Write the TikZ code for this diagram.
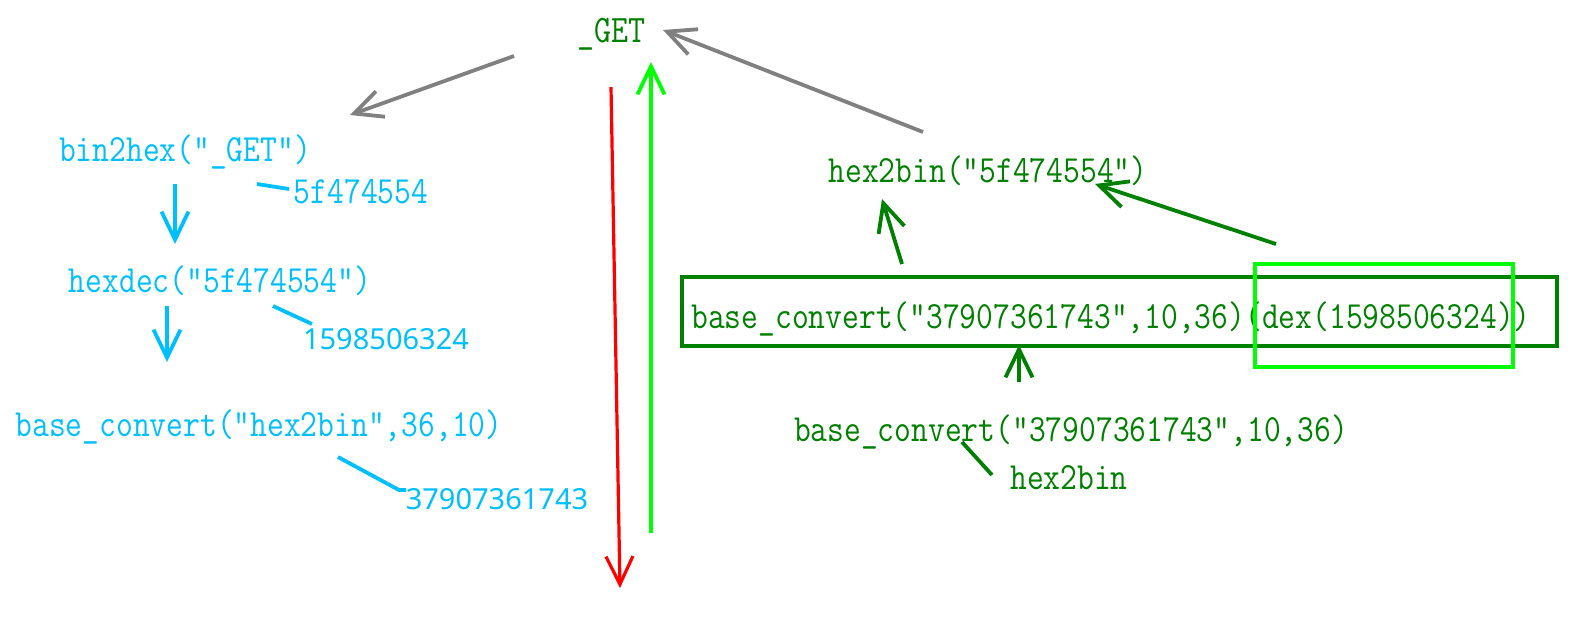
\documentclass[tikz,border=0pt]{standalone}
\usepackage{fontspec}
\usepackage{graphicx}
\setmainfont{Liberation Serif}
\newfontfamily\numf{Noto Sans}
\usetikzlibrary{arrows.meta}
\definecolor{cyanb}{RGB}{0,191,255}
\definecolor{dgreen}{RGB}{0,128,0}
\definecolor{bgreen}{RGB}{0,255,0}
\definecolor{grayc}{RGB}{128,128,128}
\newcommand\mtxt[2]{{\ttfamily\fontsize{#1pt}{#1pt}\selectfont\scalebox{1}[1.18]{#2}}}
\newcommand\ntxt[1]{{\numf\fontsize{29pt}{29pt}\selectfont #1}}
\tikzset{
  lbl/.style={anchor=base,inner sep=0pt,outer sep=0pt},
  arr/.style={line width=3.8pt,-{Straight Barb[length=28pt,width=27pt]}},
  ln/.style={line width=3.8pt},
}
\begin{document}
\begin{tikzpicture}[x=1pt,y=-1pt]
\useasboundingbox (0,0) rectangle (1576,616);
% texts
\node[lbl,text=dgreen] (get) at (611,42) {\mtxt{33}{\_GET}};
\node[lbl,text=cyanb] (b2h) at (185,161) {\mtxt{32.6}{bin2hex("\_GET")}};
\node[lbl,text=cyanb] (hexv) at (361,203) {\mtxt{32.6}{5f474554}};
\node[lbl,text=cyanb] (hd) at (220,292) {\mtxt{32.6}{hexdec("5f474554")}};
\node[lbl,text=cyanb] (decv) at (386,349) {\ntxt{1598506324}};
\node[lbl,text=cyanb] (bc1) at (259,436) {\mtxt{32.6}{base\_convert("hex2bin",36,10)}};
\node[lbl,text=cyanb] (b36v) at (497,509) {\ntxt{37907361743}};
\node[lbl,text=dgreen] (h2b) at (988,182) {\mtxt{32.6}{hex2bin("5f474554")}};
\node[lbl,text=dgreen] (big) at (1111,328) {\mtxt{32.6}{base\_convert("37907361743",10,36)(dex(1598506324))}};
\node[lbl,text=dgreen] (bc2) at (1071,441) {\mtxt{32.6}{base\_convert("37907361743",10,36)}};
\node[lbl,text=dgreen] (h2bw) at (1069,489) {\mtxt{32.6}{hex2bin}};
% coordinates
\coordinate (g1s) at (514,56);  \coordinate (g1e) at (350,115);
\coordinate (g2s) at (923,132); \coordinate (g2e) at (663,30);
\coordinate (rs) at (611,87);   \coordinate (re) at (620,588);
\coordinate (bs) at (651,533);  \coordinate (be) at (651,62);
\coordinate (c1s) at (175,184); \coordinate (c1e) at (175,244);
\coordinate (c2s) at (167,306); \coordinate (c2e) at (167,362);
\coordinate (la1) at (257,184); \coordinate (la2) at (289,189);
\coordinate (lb1) at (273,306); \coordinate (lb2) at (312,324);
\coordinate (lc1) at (338,457); \coordinate (lc2) at (399,490); \coordinate (lc3) at (406,490);
\coordinate (a1s) at (902,264); \coordinate (a1e) at (882,199);
\coordinate (a2s) at (1276,244); \coordinate (a2e) at (1095,184);
\coordinate (a3s) at (1019,382); \coordinate (a3e) at (1019,345);
\coordinate (lg1) at (962,442); \coordinate (lg2) at (992,475);
\coordinate (r1a) at (682,277); \coordinate (r1b) at (1557,346);
\coordinate (r2a) at (1255,264); \coordinate (r2b) at (1513,367);
% connectors
\draw[arr,draw=grayc] (g1s) -- (g1e);
\draw[arr,draw=grayc] (g2s) -- (g2e);
\draw[arr,draw=red,line width=3.2pt] (rs) -- (re);
\draw[arr,draw=bgreen] (bs) -- (be);
\draw[arr,draw=cyanb] (c1s) -- (c1e);
\draw[arr,draw=cyanb] (c2s) -- (c2e);
\draw[ln,draw=cyanb] (la1) -- (la2);
\draw[ln,draw=cyanb] (lb1) -- (lb2);
\draw[ln,draw=cyanb] (lc1) -- (lc2) -- (lc3);
\draw[arr,draw=dgreen] (a1s) -- (a1e);
\draw[arr,draw=dgreen] (a2s) -- (a2e);
\draw[arr,draw=dgreen] (a3s) -- (a3e);
\draw[ln,draw=dgreen] (lg1) -- (lg2);
\draw[ln,draw=dgreen] (r1a) rectangle (r1b);
\draw[ln,draw=bgreen] (r2a) rectangle (r2b);
\end{tikzpicture}
\end{document}
